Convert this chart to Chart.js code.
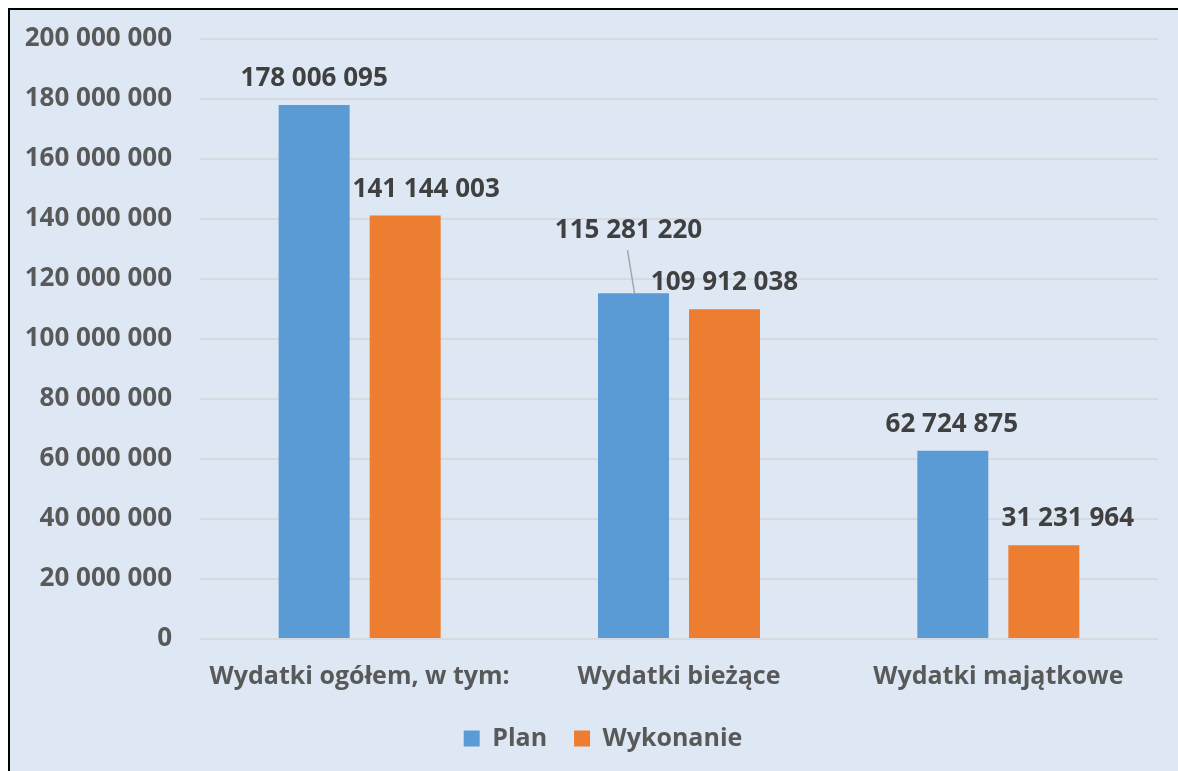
<!DOCTYPE html>
<html>
<head>
<meta charset="utf-8">
<script src="https://cdn.jsdelivr.net/npm/chart.js@4.4.1/dist/chart.umd.min.js"></script>
<style>
  html, body { margin: 0; padding: 0; background: #ffffff; }
  #ramka {
    position: absolute; left: 8px; top: 8px;
    width: 1170px; height: 763px; box-sizing: border-box;
    border-top: 2px solid #000; border-left: 2px solid #000;
    background: #dde8f4;
  }
  #wykres { display: block; }
</style>
</head>
<body>
<div id="ramka"><canvas id="wykres" width="1168" height="761"></canvas></div>
<script>
const kategorie = ['Wydatki ogółem, w tym:', 'Wydatki bieżące', 'Wydatki majątkowe']
const plan = [178006095, 115281220, 62724875]
const wykonanie = [141144003, 109912038, 31231964]
const yTicks = [0, 20000000, 40000000, 60000000, 80000000, 100000000, 120000000, 140000000, 160000000, 180000000, 200000000]

// przesunięcia etykiet danych (dx, dy) i linia odniesienia
const przesunieciaPlan = [[0, 0, false], [-5, -36, true], [-1, 0, false]]
const przesunieciaWyk = [[21, 0, false], [0, 0, false], [24, 0, false]]

const FONT = '"Open Sans", Lato, sans-serif'

function fmt(v) {
  return String(v).replace(/\B(?=(\d{3})+(?!\d))/g, ' ')
}

const etykiety = {
  id: 'etykiety',
  afterLayout(chart) {
    // legenda w oryginale lekko przesunięta w prawo
    chart.legend.left += 19
    chart.legend.right += 19
  },
  afterDatasetsDraw(chart) {
    const ctx = chart.ctx
    const przes = [przesunieciaPlan, przesunieciaWyk]
    ctx.save()
    ctx.font = 'bold 26px ' + FONT
    ctx.fillStyle = '#404040'
    ctx.textAlign = 'center'
    ctx.textBaseline = 'alphabetic'
    chart.data.datasets.forEach((ds, i) => {
      const meta = chart.getDatasetMeta(i)
      meta.data.forEach((bar, j) => {
        const [dx, dy, linia] = przes[i][j]
        const x = bar.x + dx
        const y = bar.y - 19 + dy
        ctx.fillText(fmt(ds.data[j]), x, y)
        if (linia) {
          ctx.beginPath()
          ctx.strokeStyle = '#a6a6a6'
          ctx.lineWidth = 1.5
          ctx.moveTo(x - 1, y + 12)
          ctx.lineTo(bar.x + 1, bar.y)
          ctx.stroke()
        }
      })
    })
    ctx.restore()
  }
}

new Chart(document.getElementById('wykres'), {
  type: 'bar',
  data: {
    labels: kategorie,
    datasets: [
      {
        label: 'Plan',
        data: plan,
        backgroundColor: '#5b9bd5',
        borderWidth: 0,
        categoryPercentage: 0.57,
        barPercentage: 0.78
      },
      {
        label: 'Wykonanie',
        data: wykonanie,
        backgroundColor: '#ed7d31',
        borderWidth: 0,
        categoryPercentage: 0.57,
        barPercentage: 0.78
      }
    ]
  },
  options: {
    responsive: false,
    animation: false,
    layout: { padding: { top: 29, right: 20, left: 0, bottom: 10 } },
    plugins: {
      tooltip: { enabled: false },
      legend: {
        position: 'bottom',
        labels: {
          boxWidth: 16,
          boxHeight: 16,
          padding: 27,
          color: '#595959',
          font: { family: FONT, size: 25, weight: 'bold' }
        }
      }
    },
    scales: {
      x: {
        grid: { display: false },
        border: { display: false },
        ticks: {
          color: '#595959',
          padding: 15,
          font: { family: FONT, size: 25, weight: 'bold' }
        },
        afterFit(scale) { scale.height = 60 }
      },
      y: {
        min: 0,
        max: 200000000,
        afterBuildTicks(scale) { scale.ticks = yTicks.map(v => ({ value: v })) },
        afterFit(scale) { scale.width = 190 },
        grid: { color: '#d6d9dd', lineWidth: 2, drawTicks: true, tickLength: 28, tickColor: 'rgba(0,0,0,0)' },
        border: { display: false },
        ticks: {
          color: '#595959',
          padding: 0,
          font: { family: FONT, size: 26, weight: 'bold' },
          callback: v => fmt(v)
        }
      }
    }
  },
  plugins: [etykiety]
})
</script>
</body>
</html>
